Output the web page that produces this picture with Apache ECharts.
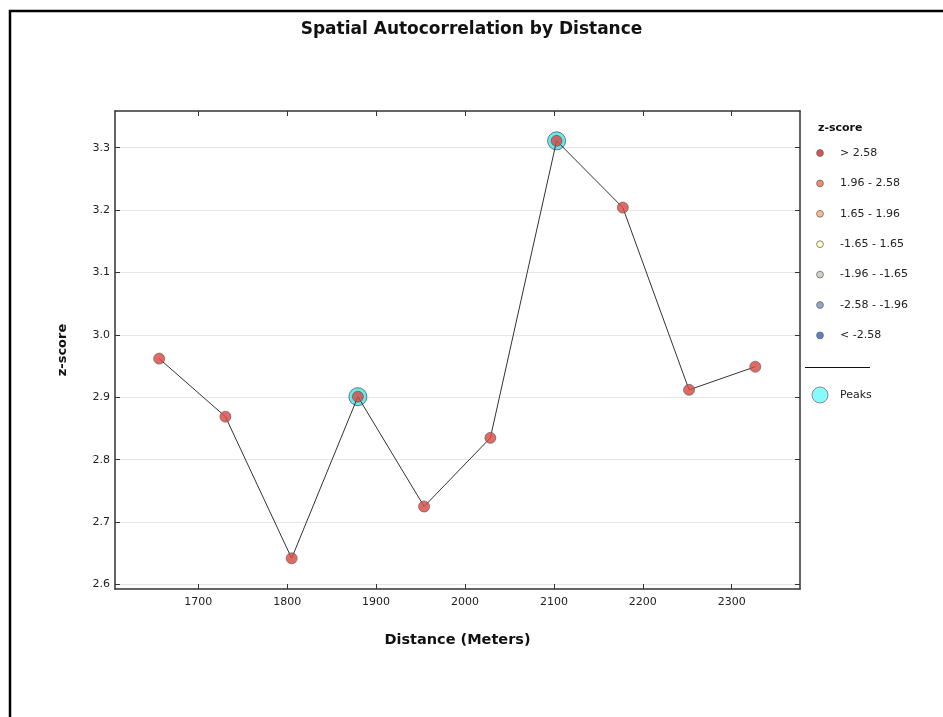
<!DOCTYPE html>
<html>
<head>
<meta charset="utf-8">
<title>Spatial Autocorrelation by Distance</title>
<script src="https://cdn.jsdelivr.net/npm/echarts@6/dist/echarts.min.js"></script>
<style>
  html, body { margin: 0; padding: 0; background: #ffffff; }
  #chart { width: 943px; height: 717px; }
</style>
</head>
<body>
<div id="chart"></div>
<script>
// Incremental distance bands (metres) and the z-score measured at each one
const distances = [1656, 1730.5, 1805, 1879.5, 1954, 2028.5, 2103, 2177.5, 2252, 2326.5];
const zScores = [2.962, 2.869, 2.642, 2.901, 2.725, 2.835, 3.311, 3.204, 2.912, 2.949];
// Positions (indices into the arrays above) flagged as peaks
const peakIndices = [3, 6];

// Tick positions on each axis
const xTicks = [1700, 1800, 1900, 2000, 2100, 2200, 2300];
const yTicks = [2.6, 2.7, 2.8, 2.9, 3.0, 3.1, 3.2, 3.3];

// z-score classes shown in the legend
const legendLabels = ['> 2.58', '1.96 - 2.58', '1.65 - 1.96', '-1.65 - 1.65', '-1.96 - -1.65', '-2.58 - -1.96', '< -2.58'];
const legendColors = ['#d9534f', '#ef8a6c', '#f9bb8c', '#ffffc2', '#c9d3c9', '#90a7c6', '#5d80bf'];

const FONT = '"DejaVu Sans", sans-serif';

const lineData = distances.map((d, i) => [d, zScores[i]]);
const peakData = peakIndices.map(i => [distances[i], zScores[i]]);

// Legend drawn as graphic elements on the right-hand side
const legendGraphics = [
  { type: 'text', left: 818, top: 123, style: { text: 'z-score', font: 'bold 11px ' + FONT, fill: '#111' } }
];
legendLabels.forEach((label, i) => {
  const cy = 153 + i * 30.4;
  legendGraphics.push({
    type: 'circle', shape: { cx: 820, cy: cy, r: 3.4 },
    style: { fill: legendColors[i], stroke: '#6a6a6a', lineWidth: 0.8 }
  });
  legendGraphics.push({
    type: 'text', x: 840, y: cy,
    style: { text: label, font: '11px ' + FONT, fill: '#222', verticalAlign: 'middle' }
  });
});
legendGraphics.push({
  type: 'line', shape: { x1: 805, y1: 367.5, x2: 870, y2: 367.5 },
  style: { stroke: '#111', lineWidth: 1 }
});
legendGraphics.push({
  type: 'circle', shape: { cx: 820, cy: 395, r: 8 },
  style: { fill: '#86fbfb', stroke: '#8a8a8a', lineWidth: 1 }
});
legendGraphics.push({
  type: 'text', x: 840, y: 395,
  style: { text: 'Peaks', font: '11px ' + FONT, fill: '#222', verticalAlign: 'middle' }
});
// Outer frame around the whole figure
legendGraphics.push({
  type: 'rect', shape: { x: 10, y: 11, width: 1000, height: 1000 },
  style: { fill: 'none', stroke: '#000', lineWidth: 2.5 }, silent: true
});

const xRange = { min: 1606.3, max: 2376.8 };
const yRange = { min: 2.5928, max: 3.3588 };
const axisLineStyle = { color: '#333', width: 1.5 };
const tickStyle = { color: '#333' };

function xAxisDef(position, withLabels) {
  return {
    type: 'value', position: position, min: xRange.min, max: xRange.max,
    axisLine: { show: true, lineStyle: axisLineStyle },
    axisTick: { show: true, inside: true, length: 5, lineStyle: tickStyle, customValues: xTicks },
    axisLabel: withLabels
      ? { show: true, customValues: xTicks, margin: 8, fontFamily: FONT, fontSize: 11, color: '#222', formatter: v => String(Math.round(v)) }
      : { show: false },
    splitLine: { show: false }
  };
}

function yAxisDef(position, withLabels) {
  return {
    type: 'value', position: position, min: yRange.min, max: yRange.max,
    axisLine: { show: true, lineStyle: axisLineStyle },
    axisTick: { show: true, inside: true, length: 5, lineStyle: tickStyle, customValues: yTicks },
    axisLabel: withLabels
      ? { show: true, customValues: yTicks, margin: 5, fontFamily: FONT, fontSize: 11, color: '#222', formatter: v => v.toFixed(1) }
      : { show: false },
    splitLine: { show: withLabels, lineStyle: { color: '#e6e6e6', width: 1 } }
  };
}

const xBottom = Object.assign(xAxisDef('bottom', true), {
  name: 'Distance (Meters)', nameLocation: 'middle', nameGap: 44,
  nameTextStyle: { fontFamily: FONT, fontSize: 14.5, fontWeight: 'bold', color: '#111' }
});
const yLeft = Object.assign(yAxisDef('left', true), {
  name: 'z-score', nameLocation: 'middle', nameGap: 46, nameRotate: 90,
  nameTextStyle: { fontFamily: FONT, fontSize: 13, fontWeight: 'bold', color: '#111' }
});

const chart = echarts.init(document.getElementById('chart'), null, { renderer: 'canvas' });
chart.setOption({
  backgroundColor: '#ffffff',
  animation: false,
  title: {
    text: 'Spatial Autocorrelation by Distance',
    left: 'center', top: 16,
    textStyle: { fontFamily: FONT, fontSize: 17, fontWeight: 'bold', color: '#111' }
  },
  grid: { left: 115, right: 143, top: 111, bottom: 128, containLabel: false },
  xAxis: [xBottom, xAxisDef('top', false)],
  yAxis: [yLeft, yAxisDef('right', false)],
  graphic: legendGraphics,
  series: [
    {
      name: 'Peaks', type: 'scatter', xAxisIndex: 0, yAxisIndex: 0,
      data: peakData, symbol: 'circle', symbolSize: 18, z: 2,
      itemStyle: { color: '#3ee6ec', borderColor: '#555', borderWidth: 1 }
    },
    {
      name: 'z-score', type: 'line', xAxisIndex: 0, yAxisIndex: 0,
      data: lineData, symbol: 'circle', symbolSize: 11, z: 3,
      lineStyle: { color: '#333', width: 1 },
      itemStyle: { color: '#d84a42', opacity: 0.82, borderColor: '#5a5a5a', borderWidth: 0.8 }
    }
  ]
});
</script>
</body>
</html>
